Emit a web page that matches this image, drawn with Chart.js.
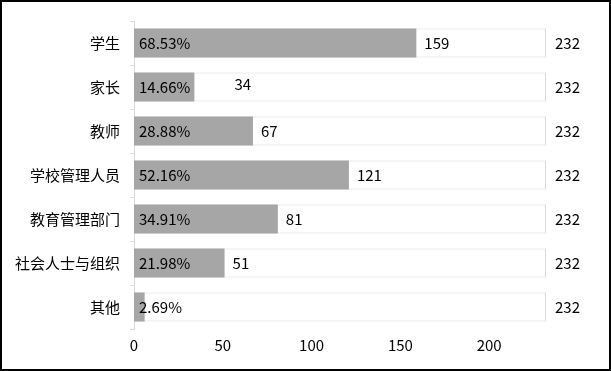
<!DOCTYPE html>
<html>
<head>
<meta charset="utf-8">
<script src="https://cdn.jsdelivr.net/npm/chart.js@4/dist/chart.umd.min.js"></script>
<style>
  html, body { margin: 0; padding: 0; background: #fff; }
  #wrap { width: 611px; height: 371px; position: relative; }
</style>
</head>
<body>
<div id="wrap"><canvas id="c" width="611" height="371"></canvas></div>
<script>
const categories = ['学生', '家长', '教师', '学校管理人员', '教育管理部门', '社会人士与组织', '其他'];
const counts = [159, 34, 67, 121, 81, 51, 6];
const totals = [232, 232, 232, 232, 232, 232, 232];
const percentLabels = ['68.53%', '14.66%', '28.88%', '52.16%', '34.91%', '21.98%', '2.69%'];
const xTicks = [0, 50, 100, 150, 200];

const FONT = "'Noto Sans CJK SC', 'Noto Sans', sans-serif";

const labelPlugin = {
  id: 'labels',
  afterDatasetsDraw(chart) {
    const ctx = chart.ctx;
    const metaFg = chart.getDatasetMeta(1);
    const metaBg = chart.getDatasetMeta(0);
    ctx.save();
    ctx.font = '15px ' + FONT;
    ctx.fillStyle = '#000';
    ctx.textBaseline = 'middle';
    ctx.textAlign = 'left';
    metaFg.data.forEach((bar, i) => {
      const y = bar.y;
      const base = bar.base;
      const pct = percentLabels[i];
      ctx.fillText(pct, base + 5, y);
      const pctEnd = base + 5 + ctx.measureText(pct).width;
      if (counts[i] >= 10) {
        if (pctEnd + 8 > bar.x) {
          ctx.fillText(String(counts[i]), bar.x + 40, y - 3);
        } else {
          ctx.fillText(String(counts[i]), bar.x + 8, y);
        }
      }
      const bg = metaBg.data[i];
      ctx.fillText(String(totals[i]), bg.x + 9, y);
    });
    ctx.restore();
  }
};

const borderPlugin = {
  id: 'outerBorder',
  afterDraw(chart) {
    const ctx = chart.ctx;
    ctx.save();
    ctx.strokeStyle = '#000';
    ctx.lineWidth = 2;
    ctx.strokeRect(1, 1, chart.width - 2, chart.height - 2);
    ctx.restore();
  }
};

new Chart(document.getElementById('c'), {
  type: 'bar',
  data: {
    labels: categories,
    datasets: [
      {
        label: '总数',
        data: totals,
        backgroundColor: '#ffffff',
        borderColor: '#d9d9d9',
        borderWidth: 1,
        borderSkipped: false,
        grouped: false,
        order: 2,
        categoryPercentage: 0.66,
        barPercentage: 1
      },
      {
        label: '人数',
        data: counts,
        backgroundColor: '#a6a6a6',
        borderWidth: 0,
        grouped: false,
        order: 1,
        categoryPercentage: 0.66,
        barPercentage: 1
      }
    ]
  },
  options: {
    indexAxis: 'y',
    responsive: false,
    animation: false,
    devicePixelRatio: 1,
    layout: { padding: { top: 21, right: 65, left: 0, bottom: 0 } },
    plugins: {
      legend: { display: false },
      tooltip: { enabled: false }
    },
    scales: {
      x: {
        min: 0,
        max: 232,
        grid: { display: false, drawTicks: false },
        border: { display: false },
        afterBuildTicks(scale) {
          scale.ticks = xTicks.map(v => ({ value: v }));
        },
        afterFit(scale) { scale.height = 42; },
        ticks: {
          padding: 7,
          color: '#000',
          font: { family: FONT, size: 15 }
        }
      },
      y: {
        grid: {
          drawOnChartArea: false,
          drawTicks: true,
          tickLength: 4,
          color: '#d9d9d9'
        },
        border: { display: true, color: '#d9d9d9', width: 1 },
        afterFit(scale) { scale.width = 134; },
        ticks: {
          padding: 10,
          color: '#000',
          font: { family: FONT, size: 15 }
        }
      }
    }
  },
  plugins: [labelPlugin, borderPlugin]
});
</script>
</body>
</html>
